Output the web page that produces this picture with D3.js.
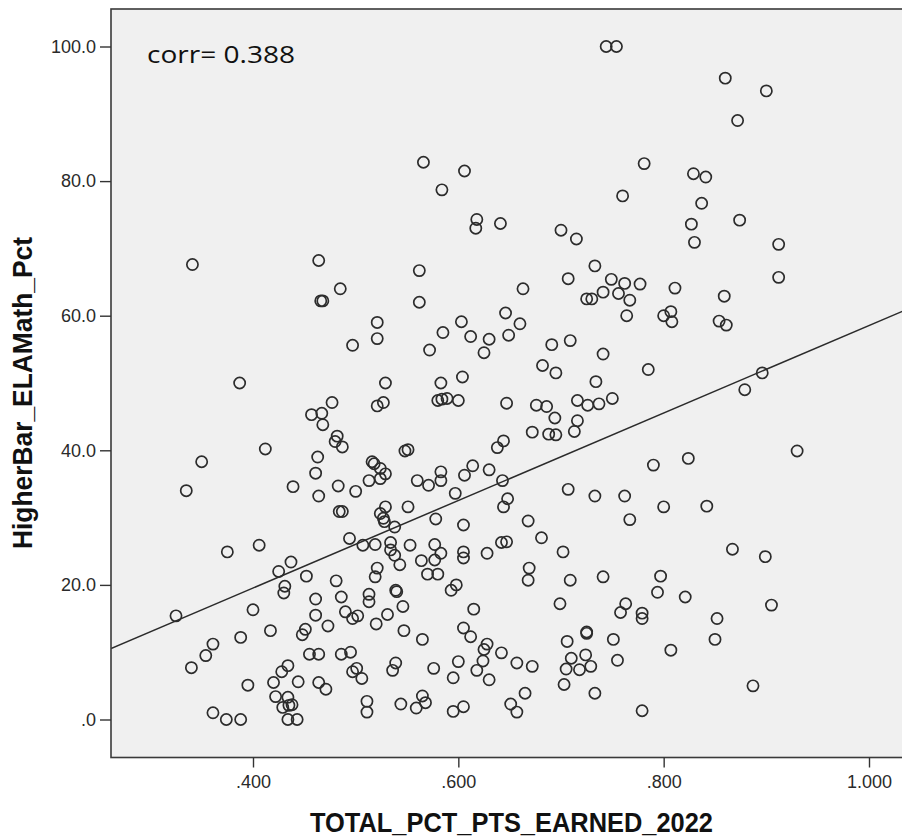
<!DOCTYPE html>
<html>
<head>
<meta charset="utf-8">
<script src="https://cdn.jsdelivr.net/npm/d3@7/dist/d3.min.js"></script>
<style>
  html, body { margin: 0; padding: 0; background: #ffffff; }
  svg { display: block; }
</style>
</head>
<body>
<svg id="chart" width="902" height="838"></svg>
<script>
// School-level scatter: total percent of points earned (2022) vs. higher-bar ELA/Math percent
const totalPctPts = [
  0.744, 0.754, 0.566, 0.606, 0.584, 0.781, 0.760, 0.618, 0.617, 0.641,
  0.700, 0.715, 0.860, 0.900, 0.872, 0.829, 0.841, 0.837, 0.874, 0.827,
  0.830, 0.912, 0.341, 0.464, 0.485, 0.466, 0.468, 0.521, 0.521, 0.497,
  0.387, 0.529, 0.477, 0.457, 0.467, 0.468, 0.521, 0.527, 0.482, 0.480,
  0.487, 0.412, 0.350, 0.463, 0.461, 0.335, 0.439, 0.483, 0.464, 0.500,
  0.513, 0.516, 0.518, 0.524, 0.529, 0.524, 0.562, 0.562, 0.585, 0.603,
  0.612, 0.630, 0.625, 0.572, 0.646, 0.660, 0.649, 0.663, 0.707, 0.733,
  0.749, 0.762, 0.777, 0.741, 0.756, 0.725, 0.730, 0.767, 0.764, 0.691,
  0.709, 0.741, 0.682, 0.695, 0.785, 0.583, 0.604, 0.580, 0.584, 0.589,
  0.600, 0.647, 0.734, 0.716, 0.726, 0.737, 0.750, 0.676, 0.686, 0.694,
  0.716, 0.713, 0.672, 0.688, 0.695, 0.644, 0.638, 0.548, 0.551, 0.560,
  0.571, 0.583, 0.583, 0.606, 0.614, 0.630, 0.643, 0.597, 0.648, 0.644,
  0.707, 0.733, 0.762, 0.529, 0.551, 0.912, 0.811, 0.800, 0.807, 0.808,
  0.859, 0.854, 0.861, 0.896, 0.879, 0.930, 0.824, 0.790, 0.800, 0.842,
  0.484, 0.487, 0.494, 0.507, 0.519, 0.375, 0.406, 0.437, 0.425, 0.452,
  0.481, 0.521, 0.519, 0.431, 0.430, 0.461, 0.486, 0.513, 0.513, 0.325,
  0.400, 0.461, 0.490, 0.497, 0.502, 0.473, 0.520, 0.361, 0.354, 0.340,
  0.388, 0.417, 0.451, 0.448, 0.455, 0.464, 0.486, 0.495, 0.497, 0.501,
  0.506, 0.434, 0.428, 0.444, 0.464, 0.471, 0.395, 0.420, 0.422, 0.434,
  0.438, 0.429, 0.435, 0.434, 0.443, 0.361, 0.374, 0.388, 0.511, 0.511,
  0.524, 0.527, 0.528, 0.538, 0.578, 0.605, 0.668, 0.681, 0.702, 0.767,
  0.534, 0.534, 0.538, 0.543, 0.553, 0.577, 0.583, 0.577, 0.564, 0.570,
  0.580, 0.605, 0.605, 0.628, 0.642, 0.647, 0.669, 0.668, 0.709, 0.741,
  0.539, 0.540, 0.598, 0.593, 0.546, 0.531, 0.615, 0.699, 0.763, 0.758,
  0.779, 0.779, 0.547, 0.565, 0.605, 0.612, 0.628, 0.625, 0.624, 0.642,
  0.618, 0.630, 0.600, 0.595, 0.576, 0.539, 0.536, 0.657, 0.672, 0.706,
  0.725, 0.725, 0.751, 0.710, 0.724, 0.729, 0.718, 0.705, 0.755, 0.703,
  0.733, 0.665, 0.651, 0.657, 0.565, 0.568, 0.544, 0.559, 0.605, 0.595,
  0.779, 0.867, 0.899, 0.797, 0.794, 0.821, 0.905, 0.852, 0.850, 0.807,
  0.887
];

const higherBarPct = [
  100.0, 100.0, 82.8, 81.5, 78.7, 82.6, 77.8, 74.3, 73.0, 73.7,
  72.7, 71.4, 95.3, 93.4, 89.0, 81.1, 80.6, 76.7, 74.2, 73.6,
  70.9, 70.6, 67.6, 68.2, 64.0, 62.2, 62.2, 59.0, 56.6, 55.6,
  50.0, 50.0, 47.1, 45.3, 45.5, 43.8, 46.6, 47.1, 42.1, 41.3,
  40.5, 40.2, 38.3, 39.0, 36.6, 34.0, 34.6, 34.7, 33.2, 33.9,
  35.5, 38.3, 38.0, 37.3, 36.5, 35.8, 66.7, 62.0, 57.5, 59.1,
  56.9, 56.5, 54.5, 54.9, 60.4, 58.8, 57.1, 64.0, 65.5, 67.4,
  65.4, 64.8, 64.7, 63.5, 63.3, 62.5, 62.5, 62.3, 60.0, 55.7,
  56.3, 54.3, 52.6, 51.5, 52.0, 50.0, 50.9, 47.4, 47.6, 47.7,
  47.4, 47.0, 50.2, 47.4, 46.7, 46.9, 47.7, 46.7, 46.5, 44.8,
  44.4, 42.8, 42.7, 42.4, 42.3, 41.4, 40.4, 39.9, 40.1, 35.5,
  34.8, 36.8, 35.5, 36.3, 37.7, 37.1, 35.5, 33.6, 32.8, 31.6,
  34.2, 33.2, 33.2, 31.6, 31.6, 65.7, 64.1, 60.0, 60.6, 59.1,
  62.9, 59.2, 58.6, 51.5, 49.0, 39.9, 38.8, 37.8, 31.6, 31.7,
  30.9, 30.9, 26.9, 25.9, 26.0, 24.9, 25.9, 23.4, 22.0, 21.3,
  20.6, 22.5, 21.2, 19.8, 18.8, 17.9, 18.2, 18.6, 17.5, 15.4,
  16.3, 15.5, 16.0, 15.0, 15.4, 13.9, 14.2, 11.2, 9.5, 7.7,
  12.2, 13.2, 13.4, 12.6, 9.7, 9.7, 9.7, 10.0, 7.1, 7.6,
  6.1, 8.0, 7.1, 5.6, 5.5, 4.5, 5.1, 5.5, 3.4, 3.3,
  2.2, 1.8, 2.1, 0.0, 0.0, 1.0, 0.0, 0.0, 2.7, 1.1,
  30.6, 29.9, 29.4, 28.6, 29.8, 28.9, 29.5, 27.0, 24.9, 29.7,
  26.3, 25.2, 24.4, 23.0, 25.9, 26.0, 24.7, 23.7, 23.6, 21.6,
  21.6, 24.9, 24.0, 24.7, 26.3, 26.4, 22.5, 20.7, 20.7, 21.2,
  19.2, 19.0, 20.0, 19.2, 16.8, 15.6, 16.4, 17.2, 17.2, 15.9,
  15.8, 15.0, 13.2, 11.9, 13.6, 12.3, 11.2, 10.4, 8.7, 9.9,
  7.3, 5.9, 8.6, 6.2, 7.6, 8.4, 7.3, 8.4, 7.9, 11.6,
  13.0, 12.8, 11.9, 9.1, 9.6, 7.9, 7.4, 7.5, 8.8, 5.2,
  3.9, 3.9, 2.3, 1.1, 3.5, 2.5, 2.3, 1.7, 1.9, 1.2,
  1.3, 25.3, 24.2, 21.3, 18.9, 18.2, 17.0, 15.0, 11.9, 10.3,
  5.0
];

// Axis ticks and their printed labels
const xTickValues = [0.4, 0.6, 0.8, 1.0];
const xTickLabels = [".400", ".600", ".800", "1.000"];
const yTickValues = [0, 20, 40, 60, 80, 100];
const yTickLabels = [".0", "20.0", "40.0", "60.0", "80.0", "100.0"];

// Linear fit line (intercept, slope) and correlation annotation
const fitIntercept = -6.46;
const fitSlope = 65.0;
const corrText = "corr= 0.388";

const xTitle = "TOTAL_PCT_PTS_EARNED_2022";
const yTitle = "HigherBar_ELAMath_Pct";

// ---- layout ----
const svg = d3.select("#chart");
const plot = { left: 111, top: 9, right: 906, bottom: 757.5 };

const x = d3.scaleLinear().domain([0.4, 1.0]).range([253, 869]);
const y = d3.scaleLinear().domain([0, 100]).range([719.5, 46.5]);

// plot background
svg.append("rect")
  .attr("x", plot.left).attr("y", plot.top)
  .attr("width", plot.right - plot.left).attr("height", plot.bottom - plot.top)
  .attr("fill", "#f0f0f0");

svg.append("defs").append("clipPath").attr("id", "plotClip")
  .append("rect")
  .attr("x", plot.left).attr("y", plot.top)
  .attr("width", plot.right - plot.left).attr("height", plot.bottom - plot.top);

const inner = svg.append("g").attr("clip-path", "url(#plotClip)");

// fit line across the whole x range of the frame
const xLo = x.invert(plot.left), xHi = x.invert(plot.right);
inner.append("line")
  .attr("x1", x(xLo)).attr("y1", y(fitIntercept + fitSlope * xLo))
  .attr("x2", x(xHi)).attr("y2", y(fitIntercept + fitSlope * xHi))
  .attr("stroke", "#2b2b2b").attr("stroke-width", 1.5);

// points
const points = totalPctPts.map((v, i) => ({ x: v, y: higherBarPct[i] }));
inner.selectAll("circle.pt").data(points).join("circle")
  .attr("class", "pt")
  .attr("cx", d => x(d.x)).attr("cy", d => y(d.y))
  .attr("r", 5.6)
  .attr("fill", "none")
  .attr("stroke", "#2c2c2c")
  .attr("stroke-width", 1.7);

// frame
svg.append("rect")
  .attr("x", plot.left).attr("y", plot.top)
  .attr("width", plot.right - plot.left).attr("height", plot.bottom - plot.top)
  .attr("fill", "none").attr("stroke", "#3a3a3a").attr("stroke-width", 1.6);

// axes
const xAxis = d3.axisBottom(x)
  .tickValues(xTickValues)
  .tickFormat((d, i) => xTickLabels[i])
  .tickSize(10).tickSizeOuter(0).tickPadding(8);
const yAxis = d3.axisLeft(y)
  .tickValues(yTickValues)
  .tickFormat((d, i) => yTickLabels[i])
  .tickSize(11).tickSizeOuter(0).tickPadding(4);

const gx = svg.append("g").attr("transform", `translate(0,${plot.bottom})`).call(xAxis);
const gy = svg.append("g").attr("transform", `translate(${plot.left},0)`).call(yAxis);

[gx, gy].forEach(g => {
  g.select(".domain").remove();
  g.selectAll(".tick line").attr("stroke", "#333").attr("stroke-width", 1.4);
  g.selectAll(".tick text")
    .attr("fill", "#2a2a2a")
    .style("font-family", "'Liberation Sans', Arial, sans-serif")
    .style("font-size", "18px");
});

// correlation annotation
svg.append("text")
  .attr("x", 147).attr("y", 63)
  .attr("textLength", 148).attr("lengthAdjust", "spacingAndGlyphs")
  .style("font-family", "'Open Sans', 'Noto Sans', sans-serif")
  .style("font-size", "24px")
  .attr("fill", "#111")
  .text(corrText);

// axis titles
svg.append("text")
  .attr("x", 310).attr("y", 832)
  .attr("textLength", 403).attr("lengthAdjust", "spacingAndGlyphs")
  .style("font-family", "'Liberation Sans', Arial, sans-serif")
  .style("font-weight", "bold")
  .style("font-size", "27px")
  .attr("fill", "#111")
  .text(xTitle);

svg.append("text")
  .attr("transform", "translate(32,549) rotate(-90)")
  .attr("x", 0).attr("y", 0)
  .attr("textLength", 312).attr("lengthAdjust", "spacingAndGlyphs")
  .style("font-family", "'Liberation Sans', Arial, sans-serif")
  .style("font-weight", "bold")
  .style("font-size", "27px")
  .attr("fill", "#111")
  .text(yTitle);
</script>
</body>
</html>
